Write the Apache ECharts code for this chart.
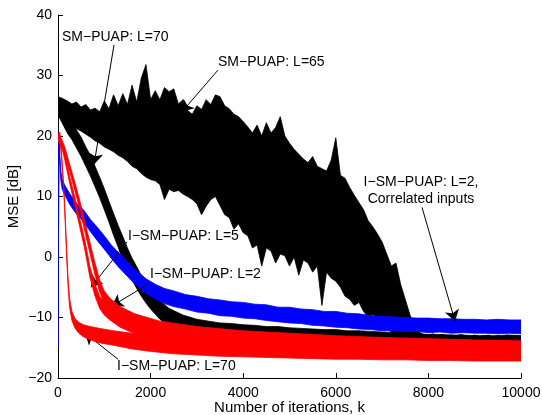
<!DOCTYPE html>
<html>
<head>
<meta charset="utf-8">
<script src="https://cdn.jsdelivr.net/npm/echarts@6/dist/echarts.min.js"></script>
<style>html,body{margin:0;padding:0;background:#fff}#c{width:542px;height:415px}</style>
</head>
<body>
<div id="c"></div>
<script>
// ---------- data ----------
const xTicks = [0, 2000, 4000, 6000, 8000, 10000];
const yTicks = [-20, -10, 0, 10, 20, 30, 40];

// SM-PUAP L=65 (black, very noisy) : upper / lower envelope
const kL65 = [0,100,200,300,400,500,600,700,800,900,1000,1100,1200,1300,1400,1500,1600,1700,1800,1900,
  2000,2100,2200,2300,2400,2500,2600,2700,2800,2900,3000,3100,3200,3300,3400,3500,3600,3700,3800,3900,
  4000,4100,4200,4300,4400,4500,4600,4700,4800,4900,5000,5100,5200,5300,5400,5500,5600,5700,5800,5900,
  6000,6100,6200,6300,6400,6500,6600,6700,6800,6900,7000,7100,7200,7300,7400,7500,7600,7700,7800,7900,
  8000,8100,8200,8300,8400,8500,8600,8700,8800,8900,9000,9100,9200,9300,9400,9500,9600,9700,9800,9900,10000];
const l65Up = [26.5,26.2,25.8,25.3,25.6,24.8,25.2,24.3,24.6,24.0,25.8,24.5,26.8,25.0,27.0,25.2,28.4,25.6,29.6,31.8,
  26.0,27.5,26.0,28.0,27.3,27.8,25.3,26.0,24.2,23.6,25.0,24.4,26.0,25.2,26.8,26.5,25.0,24.5,23.6,23.2,
  22.4,21.5,20.5,21.8,20.0,22.2,20.5,21.4,23.2,20.0,18.8,17.8,17.0,16.2,15.6,16.6,15.0,14.6,14.2,16.0,
  19.7,13.5,13.0,11.5,10.2,9.0,7.8,6.0,5.0,3.8,2.5,0.5,-1.5,-1.0,-4.5,-7.0,-9.5,-11.5,-12.4,-12.8,
  -12.9,-12.7,-13.0,-12.8,-13.0,-12.9,-13.1,-12.8,-13.0,-13.1,-12.9,-13.1,-13.0,-12.9,-13.2,-13.0,-13.1,-12.9,-13.1,-13.0,-13.1];
const l65Lo = [24.0,23.0,22.4,21.8,21.2,20.8,20.3,19.8,19.2,18.8,18.2,17.8,17.4,16.8,16.4,15.8,15.0,14.6,13.8,13.2,
  12.8,12.6,12.0,9.5,11.2,10.8,11.0,10.4,10.0,9.5,8.8,7.0,8.4,9.5,10.0,8.5,7.0,6.5,4.6,5.5,
  4.0,3.5,1.5,2.0,-1.5,1.5,1.0,-1.0,0.5,0.2,-1.5,0.0,-3.0,-0.5,-1.0,-2.5,-1.5,-8.0,-2.5,-3.5,
  -4.0,-5.0,-6.5,-7.0,-8.0,-7.5,-9.0,-10.0,-9.5,-10.5,-11.0,-11.5,-12.5,-13.0,-14.0,-14.4,-14.6,-14.7,-14.6,-14.7,
  -14.6,-14.7,-14.6,-14.7,-14.7,-14.6,-14.7,-14.6,-14.7,-14.7,-14.6,-14.7,-14.6,-14.7,-14.7,-14.6,-14.7,-14.6,-14.7,-14.7,-14.6];

// SM-PUAP L=70 (black)
const kL70 = [0,100,200,300,400,500,600,700,800,900,1000,1100,1200,1300,1400,1500,1600,1700,1800,1900,2000,
  2200,2400,2700,3000,3250,3500,3750,4000,4250,4500,4750,5000,5250,5500,5750,6000,6250,6500,6750,7000,
  7250,7500,7750,8000,8250,8500,8750,9000,9250,9500,9750,10000];
const l70Up = [26.0,25.0,23.5,22.3,21.0,19.8,18.2,16.8,15.0,13.2,11.3,9.2,7.2,5.2,3.4,1.5,-0.2,-1.6,-3.1,-4.2,-5.3,
  -7.2,-8.5,-9.6,-10.3,-10.6,-10.9,-11.0,-11.2,-11.3,-11.5,-11.5,-11.7,-11.8,-11.9,-12.0,-12.0,-12.2,-12.2,-12.3,-12.4,
  -12.5,-12.6,-12.7,-12.8,-12.8,-12.9,-12.9,-13.0,-13.0,-13.0,-12.9,-13.0];
const l70Lo = [23.5,22.0,20.5,19.4,18.0,16.6,15.0,13.4,11.6,9.8,7.8,5.8,3.6,1.6,-0.4,-2.2,-3.8,-5.2,-6.5,-7.6,-8.6,
  -10.3,-11.4,-12.3,-12.9,-13.3,-13.4,-13.6,-13.6,-13.8,-13.8,-14.0,-14.0,-14.2,-14.1,-14.3,-14.3,-14.4,-14.4,-14.5,-14.4,
  -14.6,-14.5,-14.6,-14.6,-14.7,-14.6,-14.7,-14.7,-14.6,-14.7,-14.7,-14.8];

// I-SM-PUAP L=2, correlated inputs (blue)
const kBlue = [0,20,40,60,90,150,260,400,550,700,850,1000,1150,1300,1450,1600,1750,1900,2100,2300,2500,2750,3000,3250,3500,
  3750,4000,4250,4500,4750,5000,5250,5500,5750,6000,6250,6500,6750,7000,7250,7500,7750,8000,8250,8500,8750,9000,9250,9500,9750,10000];
const blueUp = [-14.2,19.6,16.8,14.3,12.8,11.8,10.4,8.9,7.8,6.2,4.9,3.5,2.0,0.8,-0.4,-1.6,-2.6,-3.6,-4.5,-5.2,-5.6,-6.2,-6.5,-6.9,-7.1,
  -7.4,-7.5,-7.8,-7.9,-8.3,-8.3,-8.6,-8.7,-9.0,-9.0,-9.3,-9.4,-9.7,-9.8,-9.9,-10.0,-10.1,-10.1,-10.2,-10.2,-10.3,-10.3,-10.4,-10.3,-10.4,-10.4];
const blueLo = [-14.8,18.6,15.2,12.8,11.2,10.2,8.6,7.1,5.8,4.2,2.7,1.3,-0.2,-1.6,-2.8,-4.0,-5.1,-6.0,-6.9,-7.7,-8.2,-8.6,-9.1,-9.3,-9.7,
  -9.8,-10.1,-10.2,-10.5,-10.7,-10.9,-11.0,-11.3,-11.4,-11.6,-11.7,-11.9,-12.0,-12.2,-12.2,-12.3,-12.3,-12.5,-12.4,-12.6,-12.5,-12.6,-12.6,-12.7,-12.6,-12.7];

// I-SM-PUAP L=5 and L=2 (red)
const kRed = [0,40,100,150,260,370,475,580,690,800,900,1000,1120,1340,1660,2200,3000,4000,5000,6000,7000,8000,9000,10000];
const r5Up = [19.9,20.1,18.5,17.1,13.1,9.7,6.2,2.8,-1.6,-4.5,-6.5,-7.4,-8.2,-9.4,-10.3,-11.2,-12.0,-12.5,-12.9,-13.2,-13.4,-13.6,-13.8,-13.9];
const r5Lo = [19.1,19.1,17.5,15.9,11.9,8.3,4.8,1.2,-3.4,-6.5,-8.5,-9.6,-10.4,-11.6,-12.7,-13.6,-14.4,-14.9,-15.2,-15.5,-15.7,-15.9,-16.0,-16.1];
const r2Up = [19.9,20.1,19.1,18.1,15.1,12.2,9.2,5.8,2.4,-1.0,-3.8,-5.6,-6.8,-8.2,-9.4,-10.6,-11.5,-12.2,-12.6,-13.0,-13.3,-13.5,-13.7,-13.9];
const r2Lo = [19.1,19.1,18.1,16.9,13.9,10.8,7.8,4.2,0.6,-3.0,-5.8,-7.6,-9.0,-10.4,-11.8,-13.0,-13.9,-14.5,-14.9,-15.3,-15.6,-15.8,-16.0,-16.1];

// I-SM-PUAP L=70 (red)
const kR70 = [0,40,70,100,130,160,190,220,250,300,370,450,550,700,900,1200,1600,2000,2500,3000,3500,4000,4500,5000,5500,
  6000,6500,7000,7500,8000,8500,9000,9500,10000];
const r70Up = [20.4,20.6,18.0,14.5,11.0,6.0,0.6,-3.8,-6.8,-9.0,-10.2,-10.8,-11.2,-11.5,-11.8,-12.2,-12.6,-13.0,-13.3,-13.5,-13.6,-13.8,-13.8,-14.0,-14.0,
  -14.1,-14.2,-14.2,-14.3,-14.3,-14.4,-14.4,-14.5,-14.5];
const r70Lo = [19.6,19.6,17.0,13.5,10.0,5.0,-0.6,-5.2,-8.3,-10.5,-11.8,-12.6,-13.2,-13.7,-14.2,-14.6,-15.2,-15.6,-16.0,-16.2,-16.4,-16.5,-16.6,-16.7,-16.8,
  -16.9,-16.9,-17.0,-17.0,-17.1,-17.1,-17.2,-17.2,-17.2];

// annotations: text, anchor (k, dB), alignment ; arrows: tail -> tip in data units
const labelTexts = ['SM\u2212PUAP: L=70', 'SM\u2212PUAP: L=65', 'I\u2212SM\u2212PUAP: L=2,\nCorrelated inputs',
  'I\u2212SM\u2212PUAP: L=5', 'I\u2212SM\u2212PUAP: L=2', 'I\u2212SM\u2212PUAP: L=70'];
const labelAt = [[86, 36.3], [3456, 32.2], [7840, 11.0], [1512, 3.4], [1987, -2.9], [1274, -18.0]];
const labelAlign = ['left', 'left', 'center', 'left', 'left', 'left'];
const arrows = [
  [[1210, 35.05], [778, 15.3]],
  [[3456, 30.9], [2678, 24.0]],
  [[7862, 8.2], [8575, -10.6]],
  [[1490, 2.5], [713, -5.0]],
  [[1944, -4.5], [1166, -8.1]],
  [[1296, -16.9], [583, -12.6]]
];

// ---------- chart ----------
const FONT = '"Liberation Sans", Arial, Helvetica, sans-serif';
const chart = echarts.init(document.getElementById('c'), null, {renderer: 'canvas'});

// a noisy curve drawn as a filled band between its lower and upper envelope
function band(name, k, up, lo, color, z) {
  return {
    name: name, type: 'custom', coordinateSystem: 'cartesian2d', z: z, silent: true, clip: true,
    data: k.map((x, i) => [x, lo[i], up[i]]),
    encode: {x: 0, y: [1, 2]},
    renderItem: function (params, api) {
      if (params.dataIndexInside !== 0) return null;
      const n = params.dataInsideLength;
      const top = [], bot = [];
      for (let i = 0; i < n; i++) {
        const kk = api.value(0, i);
        bot.push(api.coord([kk, api.value(1, i)]));
        top.push(api.coord([kk, api.value(2, i)]));
      }
      const pts = bot.concat(top.reverse());
      return {
        type: 'polygon',
        shape: {points: pts},
        style: {fill: color, stroke: color, lineWidth: 0.8, lineJoin: 'miter'}
      };
    }
  };
}

const minus = v => String(v).replace('-', '\u2212');

const series = [
  band('L65', kL65, l65Up, l65Lo, '#000000', 2),
  band('L70', kL70, l70Up, l70Lo, '#000000', 3),
  band('blue', kBlue, blueUp, blueLo, '#0000ff', 4),
  band('r5', kRed, r5Up, r5Lo, '#ff0000', 5),
  band('r2', kRed, r2Up, r2Lo, '#ff0000', 6),
  band('r70', kR70, r70Up, r70Lo, '#ff0000', 7),
  {
    name: 'arrows', type: 'line', data: [], z: 10, silent: true,
    markLine: {
      silent: true, animation: false,
      symbol: ['none', 'arrow'], symbolSize: 11,
      label: {show: false},
      lineStyle: {color: '#000', width: 1, type: 'solid'},
      emphasis: {disabled: true},
      data: arrows.map(a => [{coord: a[0]}, {coord: a[1]}])
    }
  }
];

chart.setOption({
  animation: false,
  backgroundColor: '#fff',
  textStyle: {fontFamily: FONT},
  grid: {left: 58, right: 21, top: 15, bottom: 37, containLabel: false, outerBoundsMode: 'none'},
  xAxis: {
    type: 'value', min: xTicks[0], max: xTicks[xTicks.length - 1], interval: 2000,
    axisLine: {show: true, onZero: false, lineStyle: {color: '#000', width: 1}},
    axisTick: {show: true, inside: true, length: 5, lineStyle: {color: '#000'}},
    axisLabel: {color: '#000', fontSize: 14, margin: 8, fontFamily: FONT, formatter: v => String(v)},
    splitLine: {show: false},
    name: 'Number of iterations, k', nameLocation: 'middle', nameGap: 22, nameMoveOverlap: false,
    nameTextStyle: {color: '#000', fontSize: 15, fontFamily: FONT}
  },
  yAxis: {
    type: 'value', min: yTicks[0], max: yTicks[yTicks.length - 1], interval: 10,
    axisLine: {show: true, onZero: false, lineStyle: {color: '#000', width: 1}},
    axisTick: {show: true, inside: true, length: 5, lineStyle: {color: '#000'}},
    axisLabel: {color: '#000', fontSize: 14, margin: 6, fontFamily: FONT, formatter: minus},
    splitLine: {show: false},
    name: 'MSE [dB]', nameLocation: 'middle', nameGap: 37, nameRotate: 90, nameMoveOverlap: false,
    nameTextStyle: {color: '#000', fontSize: 15, fontFamily: FONT}
  },
  series: series
});

chart.setOption({
  graphic: labelTexts.map((t, i) => {
    const p = chart.convertToPixel({gridIndex: 0}, labelAt[i]);
    return {
      type: 'text', x: p[0], y: p[1], z: 20, silent: true,
      style: {text: t, fill: '#000', fontSize: 14, fontFamily: FONT,
              align: labelAlign[i], verticalAlign: 'middle', lineHeight: 17.5}
    };
  })
});
</script>
</body>
</html>
